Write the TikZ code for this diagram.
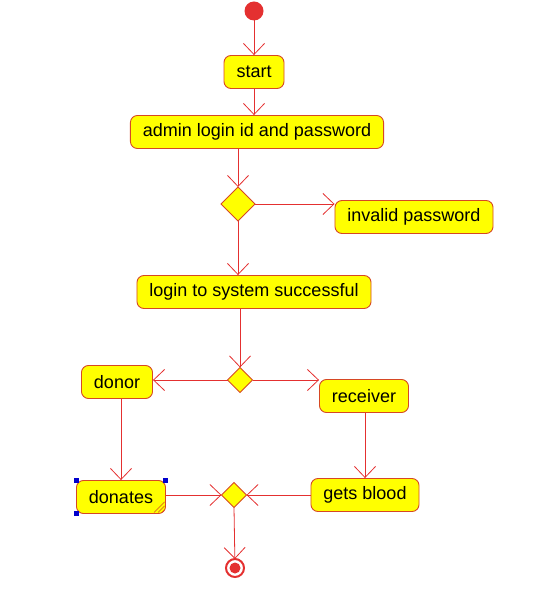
\documentclass[tikz,border=0pt]{standalone}
\usepackage{fontspec}
\setmainfont{Liberation Sans}
\usetikzlibrary{arrows.meta,shapes.geometric}
\definecolor{flowred}{RGB}{228,48,48}
\definecolor{boxedge}{RGB}{214,72,36}
\definecolor{boxfill}{RGB}{255,255,0}

\begin{document}
\begin{tikzpicture}[x=1pt,y=-1pt,
	act/.style={draw=boxedge,fill=boxfill,line width=0.9pt,rounded corners=7pt,inner xsep=12.5pt,inner ysep=0pt,minimum height=33pt,font=\fontsize{18}{20}\selectfont},
	dec/.style={draw=boxedge,fill=boxfill,line width=0.9pt,diamond,inner sep=0,outer sep=0,minimum size=#1},
	flow/.style={draw=flowred,line width=0.8pt,-{Straight Barb[length=11pt,width=21pt]}}]
	\useasboundingbox (0,0) rectangle (546,601);
	\node[circle,fill=flowred,inner sep=0,outer sep=0,minimum size=19pt] (init) at (254,11) {};
	\node[act] (start) at (254,72) {start};
	\node[act] (admin) at (257,132) {admin login id and password};
	\node[dec=34pt] (d1) at (238,204) {};
	\node[act] (invalid) at (414,217) {invalid password};
	\node[act] (login) at (254,292) {login to system successful};
	\node[dec=25pt] (d2) at (240,380) {};
	\node[act] (donor) at (117,382) {donor};
	\node[act] (receiver) at (364,396) {receiver};
	\node[act] (donates) at (121,497) {donates};
	\node[act] (gets) at (365,495) {gets blood};
	\node[dec=25pt] (d3) at (234,495) {};
	\node[circle,draw=flowred,line width=2pt,fill=white,inner sep=0,outer sep=0,minimum size=18pt] (final) at (235,568) {};
	\fill[flowred] (final.center) circle (5.5pt);
	% editor marks on donates
	\foreach \k in {4,8,12} \draw[boxedge,line width=0.6pt] ([xshift=-\k pt,yshift=1.5pt]donates.south east) -- ([xshift=-1.5pt,yshift=\k pt]donates.south east);
	\foreach \c in {north west,north east,south west} \fill[blue!80!black] (donates.\c) ++(-2.5,-2.5) rectangle ++(5,5);
	\draw[flow] (init) -- (start);
	\draw[flow] (start) -- (start |- admin.north);
	\draw[flow] (d1.north |- admin.south) -- (d1.north);
	\draw[flow] (d1.east) -- (d1.east -| invalid.west);
	\draw[flow] (d1.south) -- (d1.south |- login.north);
	\draw[flow] (d2.north |- login.south) -- (d2.north);
	\draw[flow] (d2.west) -- (d2.west -| donor.east);
	\draw[flow] (d2.east) -- (d2.east -| receiver.west);
	\draw[flow] (donates.north |- donor.south) -- (donates.north);
	\draw[flow] (gets.north |- receiver.south) -- (gets.north);
	\draw[flow] (d3.west -| donates.east) -- (d3.west);
	\draw[flow] (d3.east -| gets.west) -- (d3.east);
	\draw[flow] (d3.south) -- (final);
\end{tikzpicture}
\end{document}
